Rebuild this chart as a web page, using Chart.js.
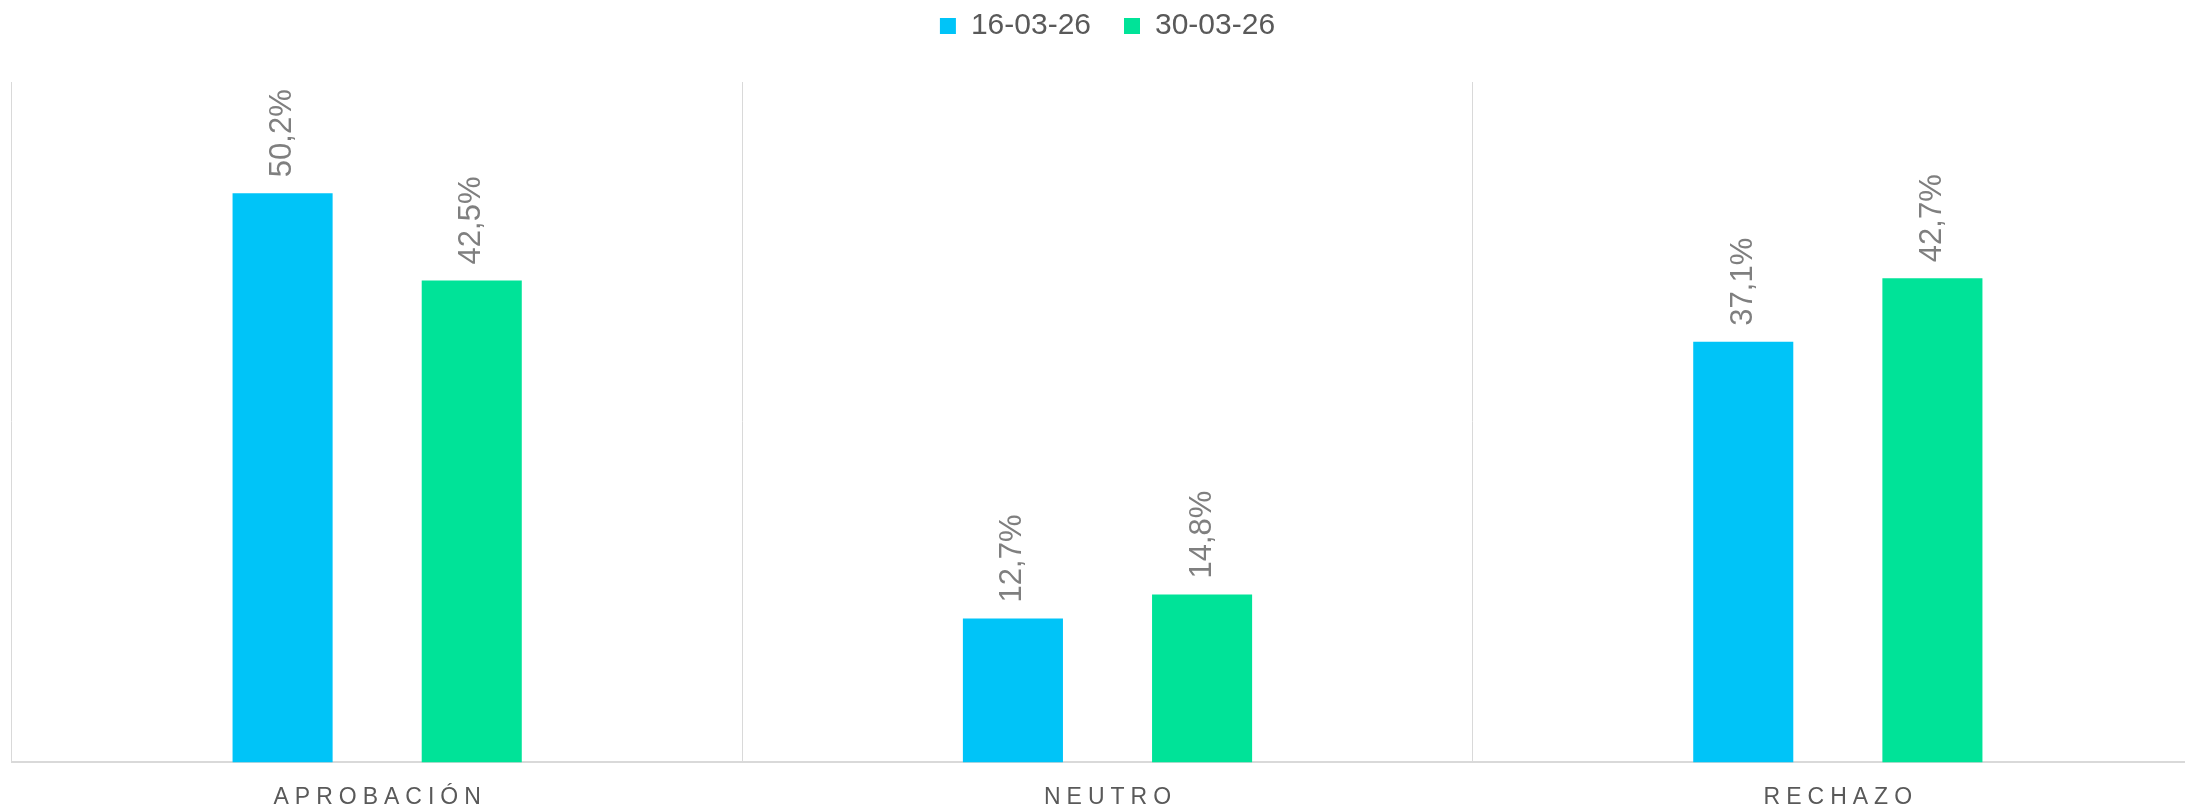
<!DOCTYPE html>
<html>
<head>
<meta charset="utf-8">
<script src="https://cdn.jsdelivr.net/npm/chart.js@4"></script>
<style>
  html, body { margin: 0; padding: 0; background: #ffffff; overflow: hidden; }
  #wrap { width: 2185px; height: 810px; overflow: hidden; }
  canvas { display: block; }
</style>
</head>
<body>
<div id="wrap"><canvas id="c" width="2213" height="810"></canvas></div>
<script>
const categories = ['APROBACIÓN', 'NEUTRO', 'RECHAZO'];
const seriesNames = ['16-03-26', '30-03-26'];
const valuesFirst = [50.2, 12.7, 37.1];
const valuesSecond = [42.5, 14.8, 42.7];
const seriesColors = ['#00C4F8', '#00E398'];

const FONT = "'Liberation Sans', Arial, sans-serif";

function fmt(v) { return v.toFixed(1).replace('.', ',') + '%'; }

const legendSpacer = {
  id: 'legendSpacer',
  beforeInit(chart) {
    const lg = chart.legend;
    if (!lg) return;
    const origFit = lg.fit;
    lg.fit = function () { origFit.call(this); this.height = 82; };
    const origDraw = lg.draw;
    lg.draw = function () {
      const ctx = this.ctx;
      ctx.save();
      ctx.translate(0, -22);
      origDraw.apply(this, arguments);
      ctx.restore();
    };
  }
};

const spacedTicks = {
  id: 'spacedTicks',
  beforeDraw(chart) {
    const sc = chart.scales.x;
    if (sc && !sc._spacedPatched) {
      const orig = sc.drawLabels;
      sc.drawLabels = function (area) {
        const ctx = this.ctx;
        ctx.save();
        ctx.letterSpacing = '6px';
        ctx.translate(3, 0);
        orig.call(this, area);
        ctx.letterSpacing = '0px';
        ctx.restore();
      };
      sc._spacedPatched = true;
    }
  }
};

const barLabels = {
  id: 'barLabels',
  afterDatasetsDraw(chart) {
    const ctx = chart.ctx;
    ctx.save();
    ctx.font = '31px ' + FONT;
    ctx.fillStyle = '#7F7F7F';
    ctx.textAlign = 'left';
    ctx.textBaseline = 'middle';
    chart.data.datasets.forEach((ds, di) => {
      const meta = chart.getDatasetMeta(di);
      meta.data.forEach((bar, i) => {
        ctx.save();
        ctx.translate(bar.x, bar.y - 16);
        ctx.rotate(-Math.PI / 2);
        ctx.fillText(fmt(ds.data[i]), 0, 0);
        ctx.restore();
      });
    });
    ctx.restore();
  }
};

new Chart(document.getElementById('c'), {
  type: 'bar',
  data: {
    labels: categories,
    datasets: [
      { label: seriesNames[0], data: valuesFirst, backgroundColor: seriesColors[0], borderWidth: 0,
        categoryPercentage: 0.518, barPercentage: 0.529 },
      { label: seriesNames[1], data: valuesSecond, backgroundColor: seriesColors[1], borderWidth: 0,
        categoryPercentage: 0.518, barPercentage: 0.529 }
    ]
  },
  options: {
    responsive: false,
    animation: false,
    devicePixelRatio: 1,
    layout: { padding: { left: 12, right: 10, top: 0, bottom: -22 } },
    plugins: {
      legend: {
        position: 'top',
        labels: {
          boxWidth: 16, boxHeight: 16, padding: 33,
          color: '#595959',
          font: { family: FONT, size: 30 }
        }
      },
      tooltip: { enabled: false }
    },
    scales: {
      x: {
        offset: true,
        grid: { display: true, color: '#D9D9D9', lineWidth: 1, drawTicks: false, offset: true },
        border: { display: true, color: '#D9D9D9', width: 2 },
        ticks: { color: '#595959', padding: 21, font: { family: FONT, size: 23 }, maxRotation: 0 }
      },
      y: {
        display: false,
        min: 0, max: 60,
        grid: { display: false }
      }
    }
  },
  plugins: [legendSpacer, spacedTicks, barLabels]
});
</script>
</body>
</html>
